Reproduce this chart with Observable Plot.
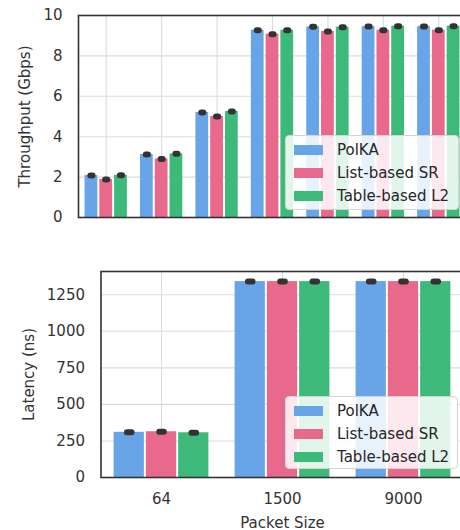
<!DOCTYPE html>
<html><head><meta charset="utf-8">
<script src="https://cdn.jsdelivr.net/npm/d3@7"></script>
<script src="https://cdn.jsdelivr.net/npm/@observablehq/plot@0.6"></script>
<style>
html,body{margin:0;padding:0;background:#fff;overflow:hidden;width:460px;height:530px}
#wrap{position:relative;width:460px;height:530px;overflow:hidden;font-family:"DejaVu Sans",sans-serif}
.panel{position:absolute;left:0}
.legend{position:absolute;box-sizing:border-box;border:1px solid #d4d4d4;border-radius:4px;background:rgba(255,255,255,0.85);padding:2px 0 0 8px;font-size:15px;color:#262626}
.row{height:23px;display:flex;align-items:center;white-space:nowrap}
.sw{width:29px;height:10px;margin-right:14px;flex:none}
</style></head><body><div id="wrap"></div>
<script>
// ---- data ----
const systems = ["PolKA", "List-based SR", "Table-based L2"];
const colors = ["#67a5e8", "#e8698b", "#3dba79"];

// Throughput panel (x tick labels are hidden in the reference)
const tpSizes = ["64", "128", "256", "512", "1024", "1500", "9000"];
const tpPolKA = [2.08, 3.12, 5.20, 9.27, 9.44, 9.45, 9.45];
const tpListSR = [1.88, 2.90, 5.00, 9.07, 9.21, 9.27, 9.27];
const tpTableL2 = [2.09, 3.15, 5.25, 9.27, 9.42, 9.47, 9.47];
const tpTicks = [0, 2, 4, 6, 8, 10];

// Latency panel
const latSizes = ["64", "1500", "9000"];
const latPolKA = [309, 1340, 1340];
const latListSR = [313, 1340, 1340];
const latTableL2 = [306, 1340, 1340];
const latTicks = [0, 250, 500, 750, 1000, 1250];

// ---- build ----
const groupWidth = 0.8;
function rowsOf(series) {
  const out = [];
  series.forEach((vals, j) => vals.forEach((v, i) => {
    const x1 = i - groupWidth / 2 + j * groupWidth / systems.length;
    const x2 = x1 + groupWidth / systems.length;
    out.push({i, system: systems[j], value: v, x1, x2, c: (x1 + x2) / 2});
  }));
  return out;
}

function panel({sizes, series, ticks, yMax, label, showX, width, height, mt, mb, ml, mr, labelOffset}) {
  const rows = rowsOf(series);
  const idx = d3.range(sizes.length);
  const marks = [
    Plot.gridX(idx, {stroke: "#dcdcdc", strokeOpacity: 1, strokeWidth: 1.1}),
    Plot.gridY(ticks, {stroke: "#dcdcdc", strokeOpacity: 1, strokeWidth: 1.1}),
    Plot.rect(rows, {x1: "x1", x2: "x2", y1: d => 0, y2: "value", fill: "system", insetLeft: 1, insetRight: 1}),
    Plot.link(rows, {x1: d => d.c - 0.019, x2: d => d.c + 0.019, y1: "value", y2: "value",
      stroke: "#333", strokeWidth: 6, strokeLinecap: "round"}),
    Plot.frame({stroke: "#333", strokeWidth: 1.6}),
    Plot.axisY(ticks, {tickSize: 0, tickPadding: 16, tickFormat: d => String(d), label, labelAnchor: "center", labelOffset, labelArrow: false})
  ];
  if (showX) marks.push(Plot.axisX(idx, {tickSize: 0, tickPadding: 16, tickFormat: i => sizes[i],
    label: "Packet Size", labelAnchor: "center", labelOffset: 50, labelArrow: false}));
  return Plot.plot({
    width, height, marginTop: mt, marginBottom: mb, marginLeft: ml, marginRight: mr,
    style: {fontFamily: "DejaVu Sans", fontSize: "15px", color: "#333", background: "transparent", overflow: "visible", maxWidth: "none"},
    x: {type: "linear", domain: [-0.5, sizes.length - 0.5], axis: showX ? undefined : null},
    y: {domain: [0, yMax]},
    color: {domain: systems, range: colors},
    marks
  });
}

function legend(left, top, w, h) {
  const div = document.createElement("div");
  div.className = "legend";
  Object.assign(div.style, {left: left + "px", top: top + "px", width: w + "px", height: h + "px"});
  systems.forEach((s, j) => {
    const r = document.createElement("div");
    r.className = "row";
    r.innerHTML = `<span class="sw" style="background:${colors[j]}"></span><span>${s}</span>`;
    div.appendChild(r);
  });
  return div;
}

const wrap = document.getElementById("wrap");
const top1 = panel({sizes: tpSizes, series: [tpPolKA, tpListSR, tpTableL2], ticks: tpTicks, yMax: 10,
  label: "Throughput (Gbps)", showX: false, width: 476, height: 230, mt: 15, mb: 13, ml: 78, mr: 10, labelOffset: 59});
top1.classList.add("panel"); top1.style.top = "0px";
wrap.appendChild(top1);

const bot = panel({sizes: latSizes, series: [latPolKA, latListSR, latTableL2], ticks: latTicks, yMax: 1409,
  label: "Latency (ns)", showX: true, width: 476, height: 280, mt: 21, mb: 53, ml: 100.5, mr: 12.5, labelOffset: 78});
bot.classList.add("panel"); bot.style.top = "250px";
wrap.appendChild(bot);

wrap.appendChild(legend(285, 135, 174, 75));
wrap.appendChild(legend(285, 396, 173, 73));
</script></body></html>
